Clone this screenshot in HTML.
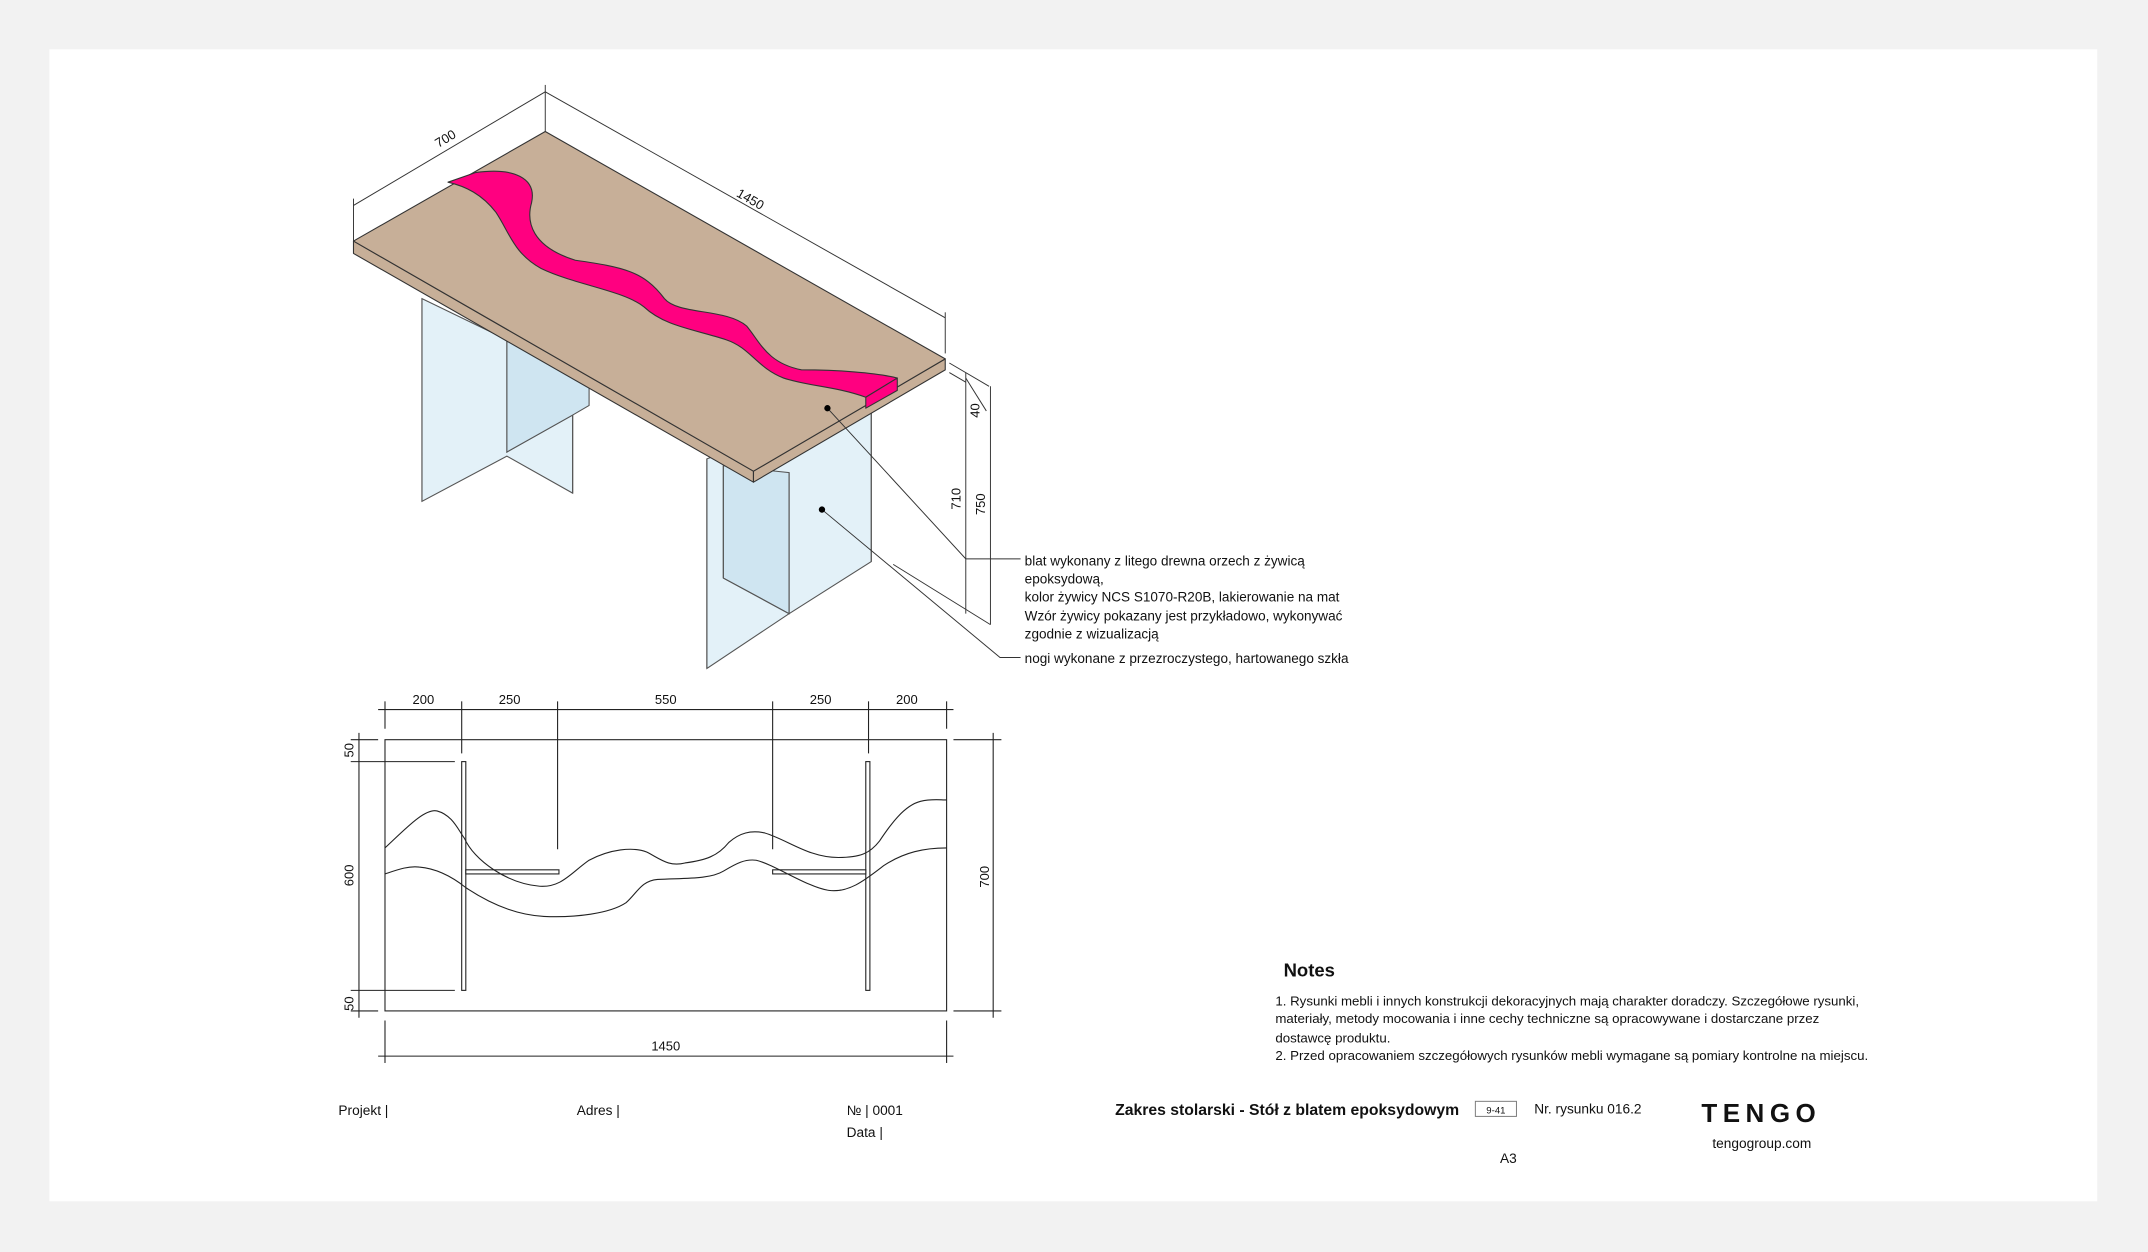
<!DOCTYPE html>
<html><head><meta charset="utf-8"><style>
html,body{margin:0;padding:0;background:#f2f2f2;}
svg{display:block;}
text{font-family:"Liberation Sans",sans-serif;fill:#111;}
</style></head><body>
<svg width="2148" height="1252" viewBox="0 0 1568 914" xmlns="http://www.w3.org/2000/svg">
<rect x="0" y="0" width="1568" height="914" fill="#f2f2f2"/>
<rect x="36" y="36" width="1495" height="841" fill="#fff"/>

<!-- Left leg -->
<g stroke="#555" stroke-width="0.8">
<polygon points="308,218 370,248 370,330 418,303 418,360 370,333 308,366" fill="#e3f1f8"/>
<polygon points="370,248 430,282 430,296 418,303 370,330" fill="#cfe5f1"/>
<line x1="418" y1="303" x2="418" y2="360"/>
<line x1="308" y1="218" x2="308" y2="366"/>
</g>
<!-- Right leg -->
<g stroke="#555" stroke-width="0.8">
<polygon points="516,335 636,290 636,410 576,448 516,488" fill="#e3f1f8"/>
<polygon points="528,340 576,345 576,448 528,422" fill="#cfe5f1"/>
<line x1="576" y1="345" x2="576" y2="448"/>
<line x1="528" y1="340" x2="528" y2="422"/>
<line x1="528" y1="422" x2="576" y2="448"/>
<line x1="516" y1="335" x2="516" y2="488"/>
<line x1="636" y1="290" x2="636" y2="410"/>
</g>

<!-- Table top -->
<g stroke="#333" stroke-width="0.8" stroke-linejoin="round">
<polygon points="258,176 550,344 550,352 258,185" fill="#c7af98"/>
<polygon points="550,344 690,262 690,270 550,352" fill="#c7af98"/>
<polygon points="398,96 690,262 550,344 258,176" fill="#c7af98"/>
<path d="M347,126 C375,122 392,130 388,148 C384,162 388,180 420,190 C455,195 470,198 485,218 C495,230 530,225 545,238 C555,250 560,265 585,270 C610,270 640,272 655,276 L632,290 C610,282 590,282 572,276 C552,268 548,254 530,248 C505,240 485,238 470,224 C455,212 420,208 395,196 C375,185 372,170 362,155 C352,142 340,136 327,133 Z" fill="#ff0080"/>
<polygon points="632,290 655,276 655,285 632,298" fill="#ff0080"/>
</g>

<!-- Iso dimensions -->
<g stroke="#333" stroke-width="0.7" fill="none">
<line x1="258" y1="150" x2="398" y2="67"/>
<line x1="258" y1="145" x2="258" y2="176"/>
<line x1="398" y1="62" x2="398" y2="96"/>
<line x1="398" y1="67" x2="690" y2="232"/>
<line x1="690" y1="228" x2="690" y2="258"/>
<line x1="693" y1="265" x2="722" y2="282"/>
<line x1="693" y1="272" x2="705" y2="279"/>
<line x1="705" y1="272" x2="705" y2="448"/>
<line x1="723" y1="282" x2="723" y2="456"/>
<line x1="705" y1="276" x2="720" y2="300"/>
<line x1="652" y1="412" x2="723" y2="456"/>
<polyline points="604,298 705,408 745,408"/>
<polyline points="600,372 730,480 745,480"/>
</g>
<circle cx="604" cy="298" r="2.3" fill="#000"/>
<circle cx="600" cy="372" r="2.3" fill="#000"/>
<text x="0" y="0" font-size="9.5" transform="translate(320,108) rotate(-31)">700</text>
<text x="0" y="0" font-size="9.5" transform="translate(537,143) rotate(29.6)">1450</text>
<text x="0" y="0" font-size="9.5" transform="translate(715,305) rotate(-90)">40</text>
<text x="0" y="0" font-size="9.5" transform="translate(701,372) rotate(-90)">710</text>
<text x="0" y="0" font-size="9.5" transform="translate(719,376) rotate(-90)">750</text>

<g font-size="9.9">
<text x="748" y="413">blat wykonany z litego drewna orzech z żywicą</text>
<text x="748" y="426">epoksydową,</text>
<text x="748" y="439">kolor żywicy NCS S1070-R20B, lakierowanie na mat</text>
<text x="748" y="453">Wzór żywicy pokazany jest przykładowo, wykonywać</text>
<text x="748" y="466">zgodnie z wizualizacją</text>
<text x="748" y="484">nogi wykonane z przezroczystego, hartowanego szkła</text>
</g>

<!-- Plan view -->
<g stroke="#222" stroke-width="0.8" fill="none">
<rect x="281" y="540" width="410" height="198"/>
<line x1="276" y1="518" x2="696" y2="518"/>
<line x1="281" y1="512" x2="281" y2="532"/>
<line x1="337" y1="512" x2="337" y2="550"/>
<line x1="407" y1="512" x2="407" y2="620"/>
<line x1="564" y1="512" x2="564" y2="620"/>
<line x1="634" y1="512" x2="634" y2="550"/>
<line x1="691" y1="512" x2="691" y2="532"/>
<line x1="262" y1="535" x2="262" y2="743"/>
<line x1="256" y1="540" x2="276" y2="540"/>
<line x1="256" y1="556" x2="332" y2="556"/>
<line x1="256" y1="723" x2="332" y2="723"/>
<line x1="256" y1="738" x2="276" y2="738"/>
<line x1="725" y1="535" x2="725" y2="743"/>
<line x1="696" y1="540" x2="731" y2="540"/>
<line x1="696" y1="738" x2="731" y2="738"/>
<line x1="276" y1="771" x2="696" y2="771"/>
<line x1="281" y1="745" x2="281" y2="776"/>
<line x1="691" y1="745" x2="691" y2="776"/>
<rect x="337" y="556" width="3" height="167" fill="#fff"/>
<rect x="340" y="635" width="68" height="3" fill="#fff"/>
<rect x="632" y="556" width="3" height="167" fill="#fff"/>
<rect x="564" y="635" width="68" height="3" fill="#fff"/>
<path d="M281,619 C296,605 310,590 319,592 C330,595 334,605 339,612 C346,628 370,645 394,647 C410,648 417,637 430,628 C445,620 462,618 472,622 C482,627 488,633 500,630 C515,628 524,625 532,615 C540,608 548,606 558,608 C575,613 590,626 612,626 C628,626 635,623 642,614 C650,602 660,588 672,585 C680,583 686,584 691,584"/>
<path d="M281,638 C290,635 298,632 306,633 C318,634 330,640 340,648 C355,658 375,668 397,669 C420,670 445,667 457,659 C465,652 468,643 480,642 C500,641 518,642 528,636 C538,630 544,627 552,628 C565,631 590,648 605,650 C620,652 632,642 645,632 C660,622 675,619 691,619"/>
</g>
<g font-size="9.5" text-anchor="middle">
<text x="309" y="514">200</text>
<text x="372" y="514">250</text>
<text x="486" y="514">550</text>
<text x="599" y="514">250</text>
<text x="662" y="514">200</text>
<text x="486" y="767">1450</text>
</g>
<text font-size="9.5" transform="translate(258,553) rotate(-90)">50</text>
<text font-size="9.5" transform="translate(258,647) rotate(-90)">600</text>
<text font-size="9.5" transform="translate(258,738) rotate(-90)">50</text>
<text font-size="9.5" transform="translate(722,648) rotate(-90)">700</text>

<!-- Notes -->
<text x="937" y="713" font-size="13.5" font-weight="bold">Notes</text>
<g font-size="9.7">
<text x="931" y="734">1. Rysunki mebli i innych konstrukcji dekoracyjnych mają charakter doradczy. Szczegółowe rysunki,</text>
<text x="931" y="747">materiały, metody mocowania i inne cechy techniczne są opracowywane i dostarczane przez</text>
<text x="931" y="761">dostawcę produktu.</text>
<text x="931" y="774">2. Przed opracowaniem szczegółowych rysunków mebli wymagane są pomiary kontrolne na miejscu.</text>
</g>

<!-- Title block -->
<g font-size="10">
<text x="247" y="814">Projekt |</text>
<text x="421" y="814">Adres |</text>
<text x="618" y="814">№ |  0001</text>
<text x="618" y="830">Data |</text>
<text x="1120" y="813">Nr. rysunku  016.2</text>
<text x="1250" y="838">tengogroup.com</text>
<text x="1095" y="849">A3</text>
</g>
<text x="814" y="814" font-size="11.5" font-weight="bold">Zakres stolarski - Stół z blatem epoksydowym</text>
<rect x="1077" y="804" width="30" height="11" fill="none" stroke="#777" stroke-width="0.7"/>
<text x="1085" y="813" font-size="7" fill="#777">9-41</text>
<text x="1242" y="819" font-size="19" font-weight="bold" letter-spacing="4">TENGO</text>
</svg>
</body></html>
